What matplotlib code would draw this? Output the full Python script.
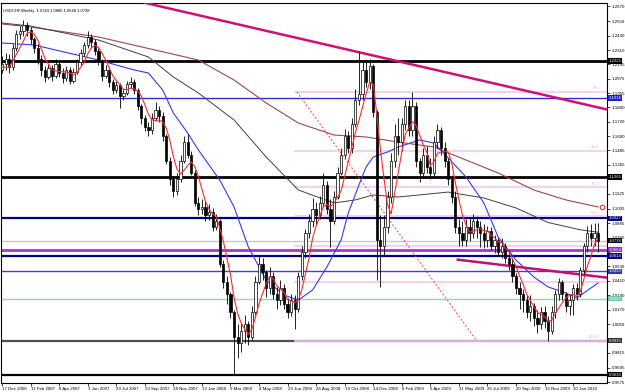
import numpy as np
import pandas as pd
import matplotlib
matplotlib.use("Agg")
import matplotlib.pyplot as plt
import matplotlib.transforms as mtransforms

plt.rcParams['font.family'] = ['Liberation Sans', 'DejaVu Sans']

# Weekly USDCHF bars, first bar = week of 17 Dec 2006
first_open = 1.2150
closes = [
    1.2200, 1.2240, 1.2170, 1.2330, 1.2440, 1.2470, 1.2520, 1.2480, 1.2400, 1.2330,
    1.2240, 1.2150, 1.2090, 1.2160, 1.2100, 1.2200, 1.2120, 1.2080, 1.2150, 1.2060,
    1.2130, 1.2210, 1.2290, 1.2350, 1.2420, 1.2380, 1.2300, 1.2220, 1.2100, 1.2150,
    1.2050, 1.1980, 1.2020, 1.1930, 1.1960, 1.2030, 1.2050, 1.1980, 1.1850, 1.1750,
    1.1680, 1.1650, 1.1750, 1.1820, 1.1770, 1.1600, 1.1400, 1.1250, 1.1150, 1.1250,
    1.1400, 1.1550, 1.1450, 1.1300, 1.1050, 1.1000, 1.1020, 1.0950, 1.0980, 1.0850,
    1.0900, 1.0550, 1.0400, 1.0300, 1.0150, 0.9950, 0.9900, 1.0000, 1.0050, 0.9950,
    1.0150, 1.0400, 1.0550, 1.0480, 1.0350, 1.0450, 1.0300, 1.0250, 1.0350, 1.0220,
    1.0150, 1.0250, 1.0180, 1.0450, 1.0650, 1.0800, 1.0900, 1.1000, 1.0950, 1.1050,
    1.1200, 1.1000, 1.0900, 1.1100, 1.1300, 1.1450, 1.1600, 1.1500, 1.1700, 1.1900,
    1.1950, 1.2150, 1.2050, 1.2180, 1.1800, 1.0750, 1.0700, 1.0850, 1.1100, 1.1400,
    1.1600, 1.1550, 1.1700, 1.1850, 1.1650, 1.1850, 1.1400, 1.1300, 1.1450, 1.1350,
    1.1300, 1.1550, 1.1650, 1.1500, 1.1400, 1.1250, 1.1100, 1.0850, 1.0800, 1.0750,
    1.0850, 1.0800, 1.0900, 1.0850, 1.0800, 1.0750, 1.0820, 1.0700, 1.0750, 1.0650,
    1.0700, 1.0600, 1.0550, 1.0450, 1.0350, 1.0300, 1.0250, 1.0150, 1.0200, 1.0100,
    1.0050, 1.0150, 1.0080, 1.0000, 1.0150, 1.0300, 1.0400, 1.0300, 1.0200, 1.0250,
    1.0350, 1.0300, 1.0500, 1.0700, 1.0800, 1.0760, 1.0800, 1.0738,
]
highs = [
    1.2260, 1.2290, 1.2280, 1.2360, 1.2480, 1.2510, 1.2555, 1.2540, 1.2500, 1.2420,
    1.2360, 1.2270, 1.2180, 1.2200, 1.2190, 1.2240, 1.2230, 1.2160, 1.2180, 1.2170,
    1.2160, 1.2240, 1.2320, 1.2380, 1.2470, 1.2440, 1.2400, 1.2330, 1.2240, 1.2190,
    1.2170, 1.2070, 1.2060, 1.2040, 1.1990, 1.2060, 1.2090, 1.2070, 1.2000, 1.1870,
    1.1780, 1.1720, 1.1790, 1.1880, 1.1850, 1.1800, 1.1620, 1.1430, 1.1270, 1.1300,
    1.1450, 1.1600, 1.1620, 1.1480, 1.1320, 1.1100, 1.1080, 1.1070, 1.1040, 1.1010,
    1.0960, 1.0920, 1.0580, 1.0450, 1.0320, 1.0170, 1.0050, 1.0060, 1.0130, 1.0080,
    1.0200, 1.0450, 1.0610, 1.0600, 1.0500, 1.0520, 1.0480, 1.0360, 1.0420, 1.0380,
    1.0270, 1.0300, 1.0290, 1.0480, 1.0700, 1.0840, 1.0960, 1.1090, 1.1060, 1.1110,
    1.1300, 1.1230, 1.1080, 1.1150, 1.1350, 1.1500, 1.1660, 1.1640, 1.1750, 1.1990,
    1.2300, 1.2220, 1.2230, 1.2240, 1.2200, 1.1820, 1.0950, 1.0950, 1.1150, 1.1460,
    1.1700, 1.1750, 1.1750, 1.1900, 1.1900, 1.1966, 1.1880, 1.1420, 1.1500, 1.1520,
    1.1420, 1.1600, 1.1700, 1.1680, 1.1550, 1.1420, 1.1280, 1.1150, 1.0920, 1.0900,
    1.0920, 1.0930, 1.0960, 1.0940, 1.0900, 1.0880, 1.0860, 1.0850, 1.0790, 1.0760,
    1.0760, 1.0720, 1.0660, 1.0600, 1.0470, 1.0400, 1.0340, 1.0290, 1.0290, 1.0230,
    1.0170, 1.0190, 1.0200, 1.0120, 1.0200, 1.0330, 1.0430, 1.0420, 1.0320, 1.0300,
    1.0380, 1.0390, 1.0520, 1.0720, 1.0860, 1.0880, 1.0886, 1.0886,
]
lows = [
    1.2120, 1.2150, 1.2120, 1.2150, 1.2300, 1.2400, 1.2430, 1.2430, 1.2360, 1.2290,
    1.2200, 1.2100, 1.2050, 1.2070, 1.2060, 1.2080, 1.2090, 1.2040, 1.2060, 1.2030,
    1.2040, 1.2110, 1.2190, 1.2260, 1.2330, 1.2340, 1.2270, 1.2190, 1.2060, 1.2080,
    1.2010, 1.1950, 1.1960, 1.1830, 1.1900, 1.1940, 1.2000, 1.1950, 1.1820, 1.1700,
    1.1640, 1.1600, 1.1620, 1.1730, 1.1720, 1.1560, 1.1370, 1.1200, 1.1100, 1.1120,
    1.1220, 1.1380, 1.1420, 1.1280, 1.1030, 1.0950, 1.0960, 1.0900, 1.0910, 1.0820,
    1.0830, 1.0520, 1.0350, 1.0220, 1.0100, 0.9636, 0.9770, 0.9820, 0.9900, 0.9880,
    0.9920, 1.0120, 1.0380, 1.0420, 1.0280, 1.0300, 1.0260, 1.0180, 1.0210, 1.0180,
    1.0100, 1.0120, 1.0010, 1.0150, 1.0420, 1.0600, 1.0760, 1.0850, 1.0880, 1.0920,
    1.1020, 1.0960, 1.0690, 1.0880, 1.1080, 1.1280, 1.1420, 1.1460, 1.1460, 1.1680,
    1.1860, 1.1900, 1.2010, 1.1990, 1.1760, 1.0420, 1.0360, 1.0620, 1.0800, 1.1050,
    1.1350, 1.1450, 1.1480, 1.1650, 1.1600, 1.1600, 1.1350, 1.1220, 1.1260, 1.1300,
    1.1250, 1.1270, 1.1500, 1.1450, 1.1350, 1.1200, 1.1050, 1.0800, 1.0700, 1.0700,
    1.0700, 1.0740, 1.0760, 1.0760, 1.0690, 1.0680, 1.0690, 1.0660, 1.0640, 1.0610,
    1.0600, 1.0560, 1.0500, 1.0400, 1.0300, 1.0180, 1.0150, 1.0100, 1.0080, 1.0040,
    0.9980, 1.0010, 1.0020, 0.9915, 0.9970, 1.0100, 1.0250, 1.0250, 1.0150, 1.0130,
    1.0130, 1.0250, 1.0280, 1.0460, 1.0650, 1.0700, 1.0700, 1.0648,
]
# closes of the 4 weeks before the first bar (fast average warm-up)
prior_closes = [1.2250, 1.2150, 1.2100, 1.2150]

# slower moving averages (bar index, price)
ma21_idx = [0, 9, 27, 37, 41, 45, 48, 52, 55, 61, 65, 69, 74, 79, 83, 87, 91, 95, 97,
            100, 102, 104, 108, 111, 117, 121, 125, 130, 135, 139, 144, 149, 153, 158, 161, 167]
ma21_val = [1.2369, 1.2353, 1.2229, 1.2147, 1.2122, 1.1982, 1.1792, 1.1628, 1.1488, 1.1240,
            1.1018, 1.0688, 1.0416, 1.0292, 1.0251, 1.0334, 1.0523, 1.0746, 1.0968,
            1.1199, 1.1347, 1.1430, 1.1471, 1.1512, 1.1570, 1.1545, 1.1422, 1.1265, 1.1051,
            1.0771, 1.0581, 1.0441, 1.0359, 1.0309, 1.0268, 1.0392]
ma50_idx = [0, 8, 27, 41, 48, 55, 65, 74, 83, 93, 99, 104, 111, 125, 135, 144, 153, 162, 167]
ma50_val = [1.2534, 1.2509, 1.2394, 1.2254, 1.2089, 1.1957, 1.1735, 1.1430, 1.1158, 1.1051,
            1.1076, 1.1117, 1.1100, 1.1141, 1.1092, 1.1010, 1.0890, 1.0830, 1.0810]
ma100_idx = [0, 8, 27, 55, 65, 74, 83, 93, 102, 111, 121, 130, 139, 149, 158, 167]
ma100_val = [1.2526, 1.2501, 1.2419, 1.2229, 1.2064, 1.1875, 1.1710, 1.1611, 1.1595, 1.1553,
             1.1512, 1.1405, 1.1298, 1.1158, 1.1076, 1.1018]

date_labels = ["17 Dec 2006", "11 Feb 2007", "8 Apr 2007", "3 Jun 2007", "29 Jul 2007",
               "23 Sep 2007", "18 Nov 2007", "13 Jan 2008", "9 Mar 2008", "4 May 2008",
               "29 Jun 2008", "24 Aug 2008", "19 Oct 2008", "14 Dec 2008", "8 Feb 2009",
               "5 Apr 2009", "31 May 2009", "26 Jul 2009", "20 Sep 2009", "15 Nov 2009",
               "10 Jan 2010"]
price_ticks = [1.2670, 1.2550, 1.2430, 1.2310, 1.2195, 1.2075, 1.1955, 1.1840, 1.1720, 1.1600,
               1.1485, 1.1365, 1.1245, 1.1125, 1.1005, 1.0885, 1.0765, 1.0645, 1.0530, 1.0410,
               1.0290, 1.0170, 1.0050, 0.9935, 0.9815, 0.9695, 0.9575]

# horizontal levels: price, colour, width
levels = [(1.2221, '#000000', 2.0), (1.1916, '#3030d8', 1.0), (1.1265, '#000000', 2.0),
          (1.0927, '#000080', 1.6), (1.0664, '#b030d0', 2.0), (1.0614, '#000080', 1.6),
          (1.0490, '#4040c8', 1.0), (1.0260, '#90d8b8', 1.0), (0.9915, '#505050', 1.6),
          (0.9636, '#000000', 1.6)]
level_boxes = [(1.2221, '1.2221', '#000000'), (1.1916, '1.1916', '#2020d0'),
               (1.1265, '1.1265', '#000000'), (1.0927, '1.0927', '#000080'),
               (1.0738, '1.0738', '#000000'), (1.0664, '1.0664', '#a020c8'),
               (1.0614, '1.0614', '#000080'), (1.0490, '1.0490', '#3030c8'),
               (1.0260, '1.0260', '#70c8a0'), (0.9915, '0.9915', '#303030'),
               (0.9636, '0.9636', '#000000')]

# fibonacci from the Mar 2009 high to the Nov 2009 low
fib_start, fib_end = 82.6, 133.0
fib_high, fib_low = 1.1966, 0.9915
fib_pcts = [0.0, 23.6, 38.2, 50.0, 61.8, 76.4, 100.0]

# trend lines (bar index, price)
upper_trend = [(83.5, 1.2405), (111.5, 1.2215)]
lower_trend = [(127.7, 1.0584), (167.4, 1.0443)]

bid = 1.0738
alert = (168.1, 1.1018)

o = np.array([first_open] + closes[:-1])
c = np.array(closes)
h = np.array(highs)
l = np.array(lows)
x = np.arange(len(c))

all_close = pd.Series(prior_closes + closes)
ma5 = all_close.rolling(5).mean().values[len(prior_closes):]

fig = plt.figure(figsize=(6.25, 3.92), dpi=100)
ax = fig.add_axes([1 / 625, 9 / 392, 606 / 625, 380 / 392])
ax.set_xlim(-0.3, 169.5)
ax.set_ylim(0.95676, 1.26988)

# levels
for p, col, lw in levels:
    ax.axhline(p, color=col, lw=lw, zorder=1)
ax.axhline(bid, color='#c8c8c8', lw=1.0, zorder=1)

# fib levels
fib_rng = fib_high - fib_low
for pct in fib_pcts:
    p = fib_high - fib_rng * pct / 100
    ax.plot([fib_start - 0.5, 169.5], [p, p], color='#f0c8f0', lw=1.2, zorder=1)
    ax.text(167.2, p + 0.0012, f"{pct:.1f}", color='#e0a8e0', fontsize=3.0,
            ha='right', va='bottom', zorder=5)
ax.plot([fib_start, fib_end], [fib_high, fib_low], color='#ff4040', lw=0.7,
        ls=(0, (2, 2)), zorder=2)

# trend lines
ax.axline(upper_trend[0], upper_trend[1], color='#d0107a', lw=1.8, zorder=3)
slope = (lower_trend[1][1] - lower_trend[0][1]) / (lower_trend[1][0] - lower_trend[0][0])
ax.plot([lower_trend[0][0], 169.5],
        [lower_trend[0][1], lower_trend[0][1] + slope * (169.5 - lower_trend[0][0])],
        color='#c0107a', lw=1.8, zorder=3)

# moving averages
ax.plot(ma100_idx, ma100_val, color='#a04848', lw=0.8, zorder=2)
ax.plot(ma50_idx, ma50_val, color='#404040', lw=0.7, zorder=2)
ax.plot(ma21_idx, ma21_val, color='#3838f0', lw=0.8, zorder=2)
ax.plot(x, ma5, color='#ff2a2a', lw=0.8, zorder=6)

# candles
ax.vlines(x, l, h, color='#000000', lw=0.6, zorder=4)
bull = c >= o
body_lo = np.minimum(o, c)
body_h = np.maximum(np.abs(c - o), 0.0006)
ax.bar(x[bull], body_h[bull], bottom=body_lo[bull], width=0.62, color='white',
       edgecolor='black', lw=0.5, zorder=5)
ax.bar(x[~bull], body_h[~bull], bottom=body_lo[~bull], width=0.62, color='black',
       edgecolor='black', lw=0.5, zorder=5)

# alert mark near the right edge
ax.plot(*alert, marker='o', ms=3.2, mfc='white', mec='#e02020', mew=0.7, zorder=7)

# axes styling
ax.yaxis.tick_right()
ax.set_yticks(price_ticks)
# labels covered by a price box are not shown
box_prices = [b[0] for b in level_boxes]
tick_txt = ["" if min(abs(v - b) for b in box_prices) < 0.0025 else f"{v:.4f}"
            for v in price_ticks]
ax.set_yticklabels(tick_txt, fontsize=3.2)
ax.set_xticks(np.arange(0, 8 * len(date_labels), 8))
ax.set_xticklabels(date_labels, fontsize=3.2, ha='left')
ax.tick_params(axis='both', length=2, width=0.5, pad=1.2)
for s in ax.spines.values():
    s.set_linewidth(0.8)

trans = mtransforms.blended_transform_factory(ax.transAxes, ax.transData)
for p, txt, col in level_boxes:
    ax.text(1.003, p, txt, transform=trans, fontsize=3.1, color='white', ha='left',
            va='center', zorder=10, clip_on=False,
            bbox=dict(boxstyle='square,pad=0.12', fc=col, ec='none'))

ax.text(0.004, 0.985, "USDCHF,Weekly  1.0743 1.0886 1.0648 1.0738", transform=ax.transAxes,
        fontsize=3.0, va='top', ha='left', zorder=10)

fig.savefig("out.png", dpi=100)
